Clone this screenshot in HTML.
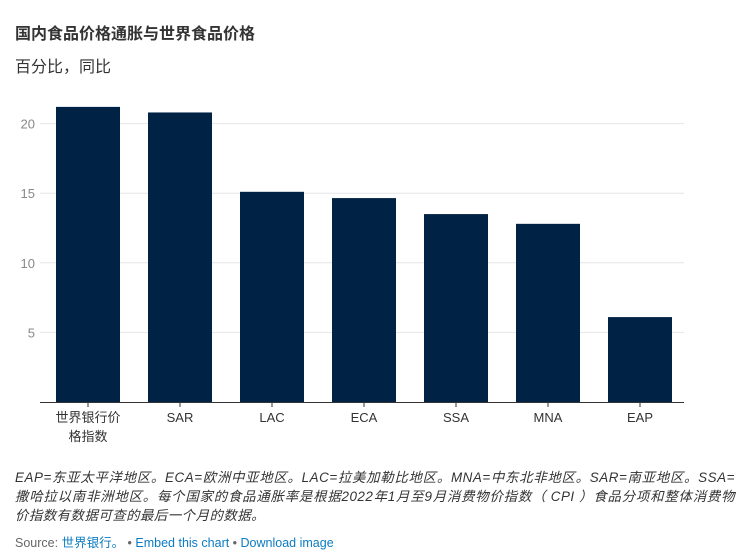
<!DOCTYPE html>
<html><head><meta charset="utf-8"><style>
body{margin:0;width:751px;height:556px;background:#fff;font-family:"Liberation Sans","Noto Sans CJK SC",sans-serif;overflow:hidden;position:relative}
.t{position:absolute;left:15px;top:20px;font-size:16px;font-weight:bold;color:#333}
.s{position:absolute;left:15px;top:53px;font-size:16px;color:#333}
.n{position:absolute;left:15px;top:468px;width:720px;font-size:13.4px;font-style:italic;color:#333;line-height:19px}
.n span{display:block;white-space:nowrap;text-align:justify;text-align-last:justify}
.n span.l{text-align-last:left}
.src{position:absolute;left:15px;top:532px;font-size:12.5px;color:#666}
.src a{color:#0a7bc2;text-decoration:none}
</style></head><body>
<div class="t">国内食品价格通胀与世界食品价格</div>
<div class="s">百分比，同比</div>
<svg id="c" width="751" height="460" style="position:absolute;left:0;top:0"></svg>
<div class="n"><span style="letter-spacing:0.55px">EAP=东亚太平洋地区。ECA=欧洲中亚地区。LAC=拉美加勒比地区。MNA=中东北非地区。SAR=南亚地区。SSA=</span><span style="letter-spacing:0.5px">撒哈拉以南非洲地区。每个国家的食品通胀率是根据2022年1月至9月消费物价指数（ CPI ）食品分项和整体消费物</span><span class="l" style="letter-spacing:0.5px">价指数有数据可查的最后一个月的数据。</span></div>
<div class="src">Source: <a>世界银行。</a> • <a>Embed this chart</a> • <a>Download image</a></div>
<script>
const categories=["世界银行价格指数","SAR","LAC","ECA","SSA","MNA","EAP"];
const values=[21.2,20.8,15.1,14.65,13.5,12.8,6.1];
const ticks=[5,10,15,20];
const NS="http://www.w3.org/2000/svg",svg=document.getElementById('c');
const y=v=>402-v*13.92;
const x0=40,step=92,bw=64;
const x=i=>x0+16+i*step;
function mk(t,a){const e=document.createElementNS(NS,t);for(const k in a)e.setAttribute(k,a[k]);svg.appendChild(e);return e;}
ticks.forEach(t=>{
 const l=mk('line',{x1:40,x2:684,y1:y(t),y2:y(t),stroke:'#e6e6e6'});
 
 
 const tx=mk('text',{x:35,y:y(t)+5,'text-anchor':'end','font-size':13,fill:'#888'});tx.textContent=t;
 
 
});
values.forEach((v,i)=>{
 const r=mk('rect',{x:x(i),y:y(v),width:bw,height:402-y(v),fill:'#002244'});
 
 
 const cx=x(i)+bw/2;
 mk('line',{x1:cx,x2:cx,y1:402,y2:407,stroke:'#333'});
 const lab=categories[i];
 const lines=lab.length>5?[lab.slice(0,5),lab.slice(5)]:[lab];
 lines.forEach((s,j)=>{const t=mk('text',{x:cx,y:422+j*19,'text-anchor':'middle','font-size':13,fill:'#333'});t.textContent=s;
 
 });
});
const ax=mk('line',{x1:40,x2:684,y1:402.5,y2:402.5,stroke:'#333'});


</script>
</body></html>
